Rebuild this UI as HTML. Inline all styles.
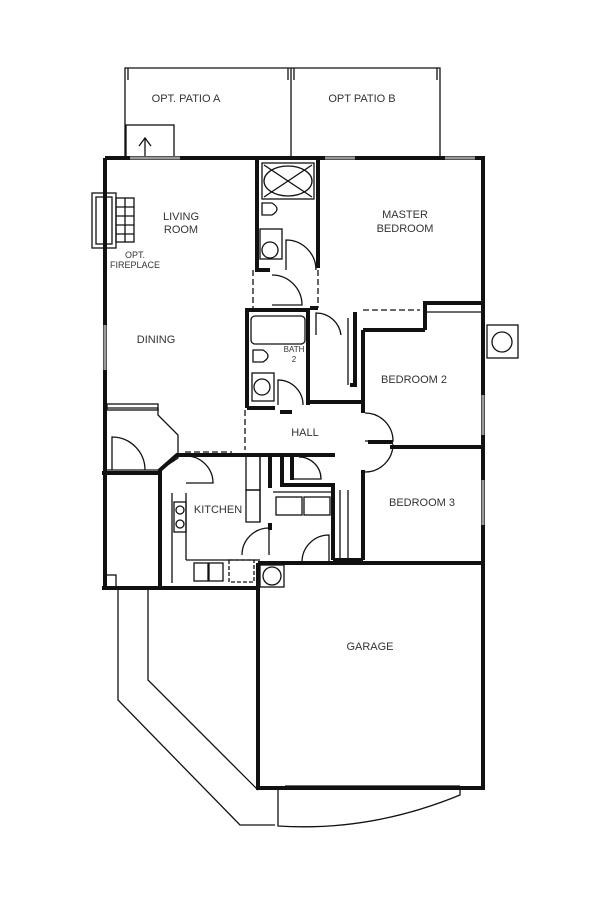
<!DOCTYPE html>
<html><head><style>body{margin:0;background:#fff}svg{display:block}text{font-family:"Liberation Sans",sans-serif;fill:#333}</style></head><body>
<svg width="600" height="908" viewBox="0 0 600 908" xmlns="http://www.w3.org/2000/svg">
<g fill="none" stroke="#111" stroke-width="1.3">
<polyline points="125,158 125,68 440,68 440,158"/>
<line x1="291" y1="68" x2="291" y2="158"/>
<line x1="128" y1="68" x2="128" y2="80"/><line x1="288" y1="68" x2="288" y2="80"/><line x1="294" y1="68" x2="294" y2="80"/><line x1="437" y1="68" x2="437" y2="80"/>
<rect x="126" y="125" width="48" height="33"/>
<line x1="145" y1="158" x2="145" y2="138"/><polyline points="139,146 145,138 151,146"/>
<polyline points="118,588 118,700 240,825 275,825"/>
<polyline points="148,588 148,680 258,790"/>
<path d="M278,788 L278,826 Q370,832 460,795 L460,788"/>
<line x1="285" y1="786" x2="460" y2="786"/>
<rect x="92" y="193" width="24" height="55"/><rect x="96" y="197" width="16" height="47"/>
<rect x="116" y="198" width="18" height="44"/>
<line x1="116" y1="207" x2="134" y2="207"/><line x1="116" y1="216" x2="134" y2="216"/><line x1="116" y1="225" x2="134" y2="225"/><line x1="116" y1="234" x2="134" y2="234"/><line x1="125" y1="198" x2="125" y2="242"/>
<rect x="262" y="163" width="52" height="36"/><ellipse cx="288" cy="181" rx="24" ry="15"/><line x1="264" y1="165" x2="312" y2="197"/><line x1="264" y1="197" x2="312" y2="165"/>
<path d="M262,203 h10 q10,6 0,12 h-10z"/><rect x="260" y="229" width="22" height="30"/><circle cx="270" cy="250" r="8"/>
<path d="M286,270 v-30 a30,30 0 0 1 30,30"/>
<path d="M272,305 h30 a30,30 0 0 0 -30,-30"/>
<line x1="253" y1="270" x2="253" y2="308" stroke-dasharray="6,3"/><line x1="318" y1="270" x2="318" y2="308" stroke-dasharray="6,3"/>
<rect x="251" y="316" width="54" height="28" rx="4"/>
<path d="M253,350 h10 q10,6 0,12 h-10z"/><rect x="252" y="373" width="22" height="28"/><circle cx="262" cy="387" r="8"/>
<path d="M278,405 v-25 a25,25 0 0 1 25,25"/>
<path d="M316,335 v-22 a25,25 0 0 1 25,22"/>
<line x1="348" y1="318" x2="348" y2="385"/>
<line x1="363" y1="310" x2="420" y2="310" stroke-dasharray="6,3"/>
<line x1="245" y1="410" x2="245" y2="450" stroke-dasharray="6,3"/>
<line x1="185" y1="452" x2="232" y2="452" stroke-dasharray="6,3"/><line x1="185" y1="456" x2="232" y2="456" stroke-dasharray="6,3"/>
<path d="M365,413 a28,28 0 0 1 28,28 h-28"/>
<path d="M365,472 a28,28 0 0 0 28,-28"/>
<path d="M186,483 h27 a27,27 0 0 0 -27,-27"/>
<path d="M294,479 h27 a22,22 0 0 0 -22,-22"/>
<rect x="246" y="455" width="14" height="35"/><rect x="246" y="490" width="14" height="32"/><line x1="260" y1="455" x2="260" y2="522"/>
<rect x="276" y="497" width="26" height="18"/><rect x="304" y="497" width="26" height="18"/><line x1="273" y1="492" x2="333" y2="492"/>
<path d="M242,555 a27,27 0 0 1 27,-27 v27"/>
<path d="M302,562 a27,27 0 0 1 27,-27 v27"/>
<line x1="348" y1="490" x2="348" y2="560"/><line x1="340" y1="490" x2="340" y2="560"/>
<rect x="174" y="502" width="12" height="30"/><circle cx="180" cy="510" r="4"/><circle cx="180" cy="524" r="4"/>
<line x1="172" y1="493" x2="172" y2="583"/><line x1="186" y1="493" x2="186" y2="560"/><line x1="186" y1="560" x2="260" y2="560"/>
<rect x="194" y="563" width="14" height="18"/><rect x="209" y="563" width="14" height="18"/><rect x="229" y="560" width="25" height="22" stroke-dasharray="4,2"/>
<rect x="260" y="565" width="24" height="22"/><circle cx="272" cy="576" r="9"/>
<path d="M112,470 v-33 a33,33 0 0 1 33,33"/>
<polyline points="107,408 158,408 158,415 178,435 178,458 160,470 107,470"/>
<rect x="107" y="404" width="51" height="6"/>
<rect x="104" y="575" width="12" height="12"/>
<rect x="487" y="325" width="31" height="33"/><circle cx="502" cy="342" r="10"/>
<line x1="425" y1="312" x2="483" y2="312"/>
</g>
<g fill="none" stroke="#111" stroke-width="4">
<polyline points="105,158 483,158 483,788 258,788 258,563"/>
<line x1="105" y1="158" x2="105" y2="588"/>
<line x1="258" y1="563" x2="483" y2="563"/>
<line x1="257" y1="158" x2="257" y2="270"/><line x1="318" y1="158" x2="318" y2="268"/>
<line x1="255" y1="270" x2="270" y2="270"/>
<polyline points="247,408 247,310 308,310 308,405"/><line x1="247" y1="408" x2="275" y2="408"/><line x1="308" y1="402" x2="363" y2="402"/>
<line x1="318" y1="308" x2="310" y2="308"/>
<polyline points="363,330 363,413"/><line x1="363" y1="470" x2="363" y2="560"/>
<line x1="363" y1="330" x2="425" y2="330"/><polyline points="425,330 425,303 483,303"/>
<line x1="390" y1="447" x2="483" y2="447"/>
<polyline points="355,312 355,385 350,385"/>
<polyline points="160,588 160,470 177,455 335,455"/>
<line x1="270" y1="455" x2="270" y2="488"/><polyline points="282,455 282,485 333,485 333,560"/>
<line x1="270" y1="523" x2="270" y2="530"/>
<line x1="102" y1="473" x2="160" y2="473"/>
<line x1="102" y1="588" x2="258" y2="588"/>
<line x1="333" y1="560" x2="363" y2="560"/>
<line x1="280" y1="412" x2="292" y2="412"/><line x1="292" y1="455" x2="292" y2="480"/>
<line x1="368" y1="442" x2="393" y2="442"/>
</g>
<g stroke="#999" stroke-width="3"><line x1="130" y1="158" x2="180" y2="158"/><line x1="325" y1="158" x2="355" y2="158"/><line x1="445" y1="158" x2="475" y2="158"/><line x1="105" y1="325" x2="105" y2="370"/><line x1="483" y1="395" x2="483" y2="435"/><line x1="483" y1="480" x2="483" y2="525"/></g>
<g font-size="11" text-anchor="middle">
<text x="186" y="102">OPT. PATIO A</text><text x="362" y="102">OPT PATIO B</text>
<text x="181" y="220">LIVING</text><text x="181" y="233">ROOM</text>
<text x="135" y="258" font-size="9">OPT.</text><text x="135" y="268" font-size="9">FIREPLACE</text>
<text x="156" y="343">DINING</text>
<text x="405" y="218">MASTER</text><text x="405" y="232">BEDROOM</text>
<text x="294" y="352" font-size="8">BATH</text><text x="294" y="362" font-size="8">2</text>
<text x="414" y="383">BEDROOM 2</text><text x="305" y="436">HALL</text>
<text x="218" y="513">KITCHEN</text><text x="422" y="506">BEDROOM 3</text>
<text x="370" y="650">GARAGE</text>
</g>
</svg>
</body></html>
